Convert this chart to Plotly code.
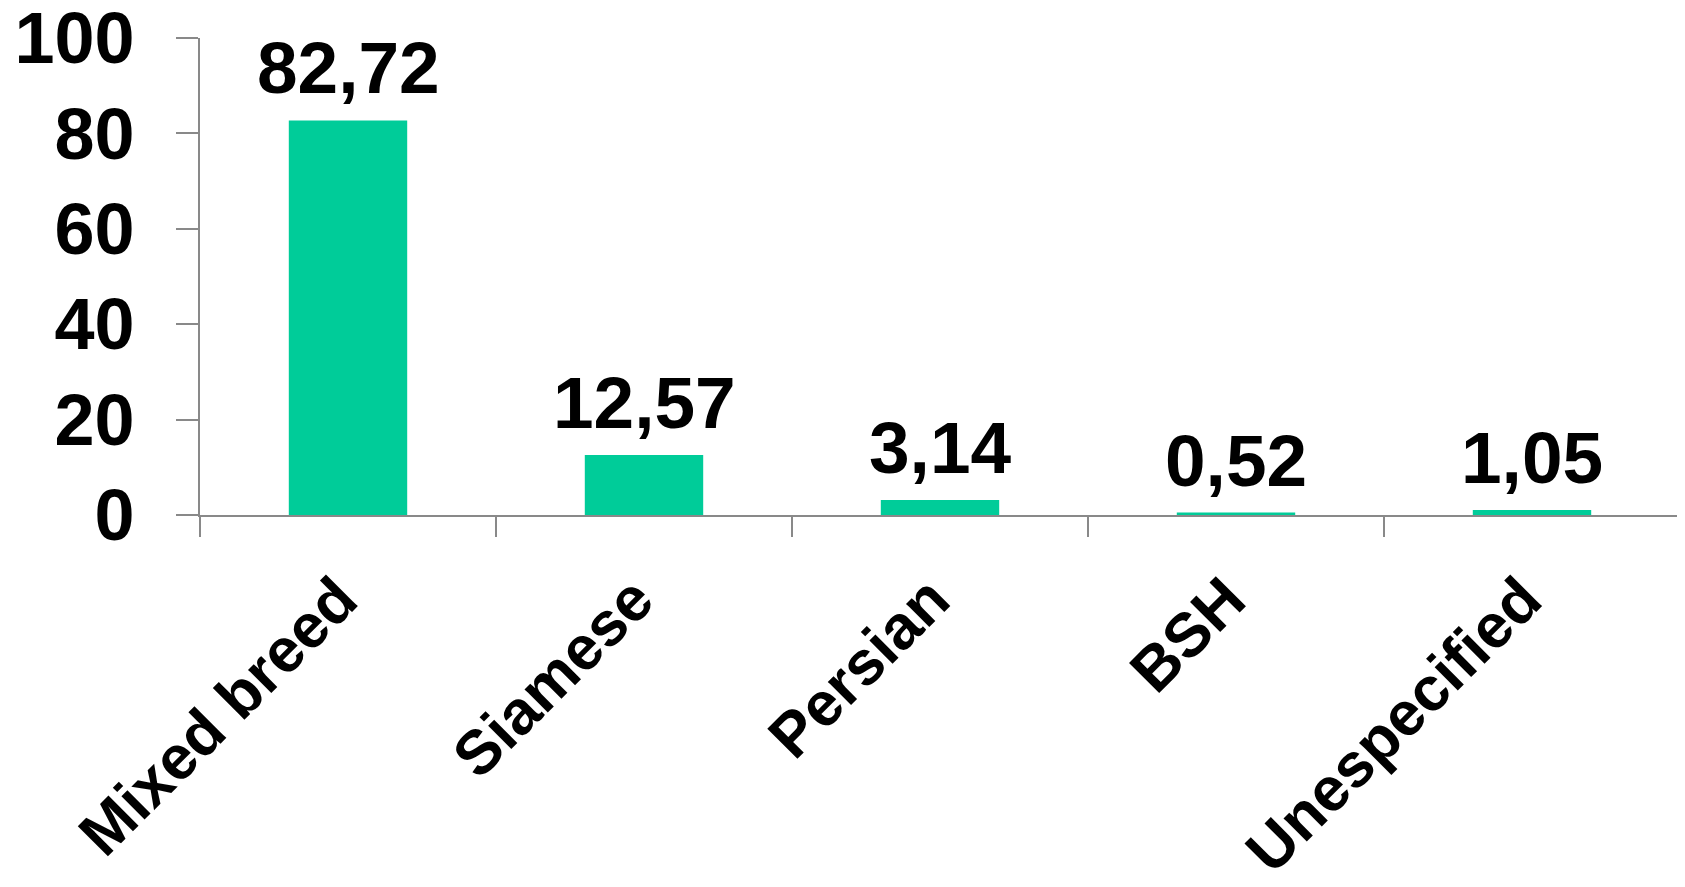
import plotly.graph_objects as go

categories = ["Mixed breed", "Siamese", "Persian", "BSH", "Unespecified"]
values = [82.72, 12.57, 3.14, 0.52, 1.05]
y_ticks = [0, 20, 40, 60, 80, 100]

FONT = "Liberation Sans, Arial, sans-serif"
AXIS_COLOR = "#898989"

fig = go.Figure()
fig.add_trace(go.Bar(
    x=categories,
    y=values,
    marker=dict(color="#00CC99", line=dict(width=0)),
    width=0.4,
    hoverinfo="skip",
))

for c, v in zip(categories, values):
    fig.add_annotation(
        x=c, y=v, xref="x", yref="y",
        text=f"{v:.2f}".replace(".", ","),
        showarrow=False,
        yanchor="bottom",
        yshift=10,
        font=dict(family=FONT, size=73, color="black", weight="bold"),
    )

fig.update_layout(
    width=1677, height=879,
    margin=dict(l=192, r=5, t=30, b=372, autoexpand=False),
    paper_bgcolor="white",
    plot_bgcolor="white",
    showlegend=False,
    bargap=0.6,
)

fig.update_xaxes(
    type="category", automargin=False,
    showline=True, linecolor=AXIS_COLOR, linewidth=2,
    ticks="outside", tickson="boundaries", ticklen=20, tickwidth=2, tickcolor=AXIS_COLOR,
    tickangle=-45, ticklabelstandoff=21, ticklabelshift=-9,
    ticklabeloverflow="allow",
    tickfont=dict(family=FONT, size=62, color="black", weight="bold"),
    showgrid=False, zeroline=False,
)
fig.update_yaxes(
    range=[0, 100], automargin=False,
    tickvals=y_ticks,
    ticktext=[str(t) for t in y_ticks],
    showline=True, linecolor=AXIS_COLOR, linewidth=2,
    ticks="outside", ticklen=22, tickwidth=2, tickcolor=AXIS_COLOR,
    ticklabelstandoff=27, ticklabeloverflow="allow",
    tickfont=dict(family=FONT, size=72, color="black", weight="bold"),
    showgrid=False, zeroline=False,
)

fig.write_html("out.html")
